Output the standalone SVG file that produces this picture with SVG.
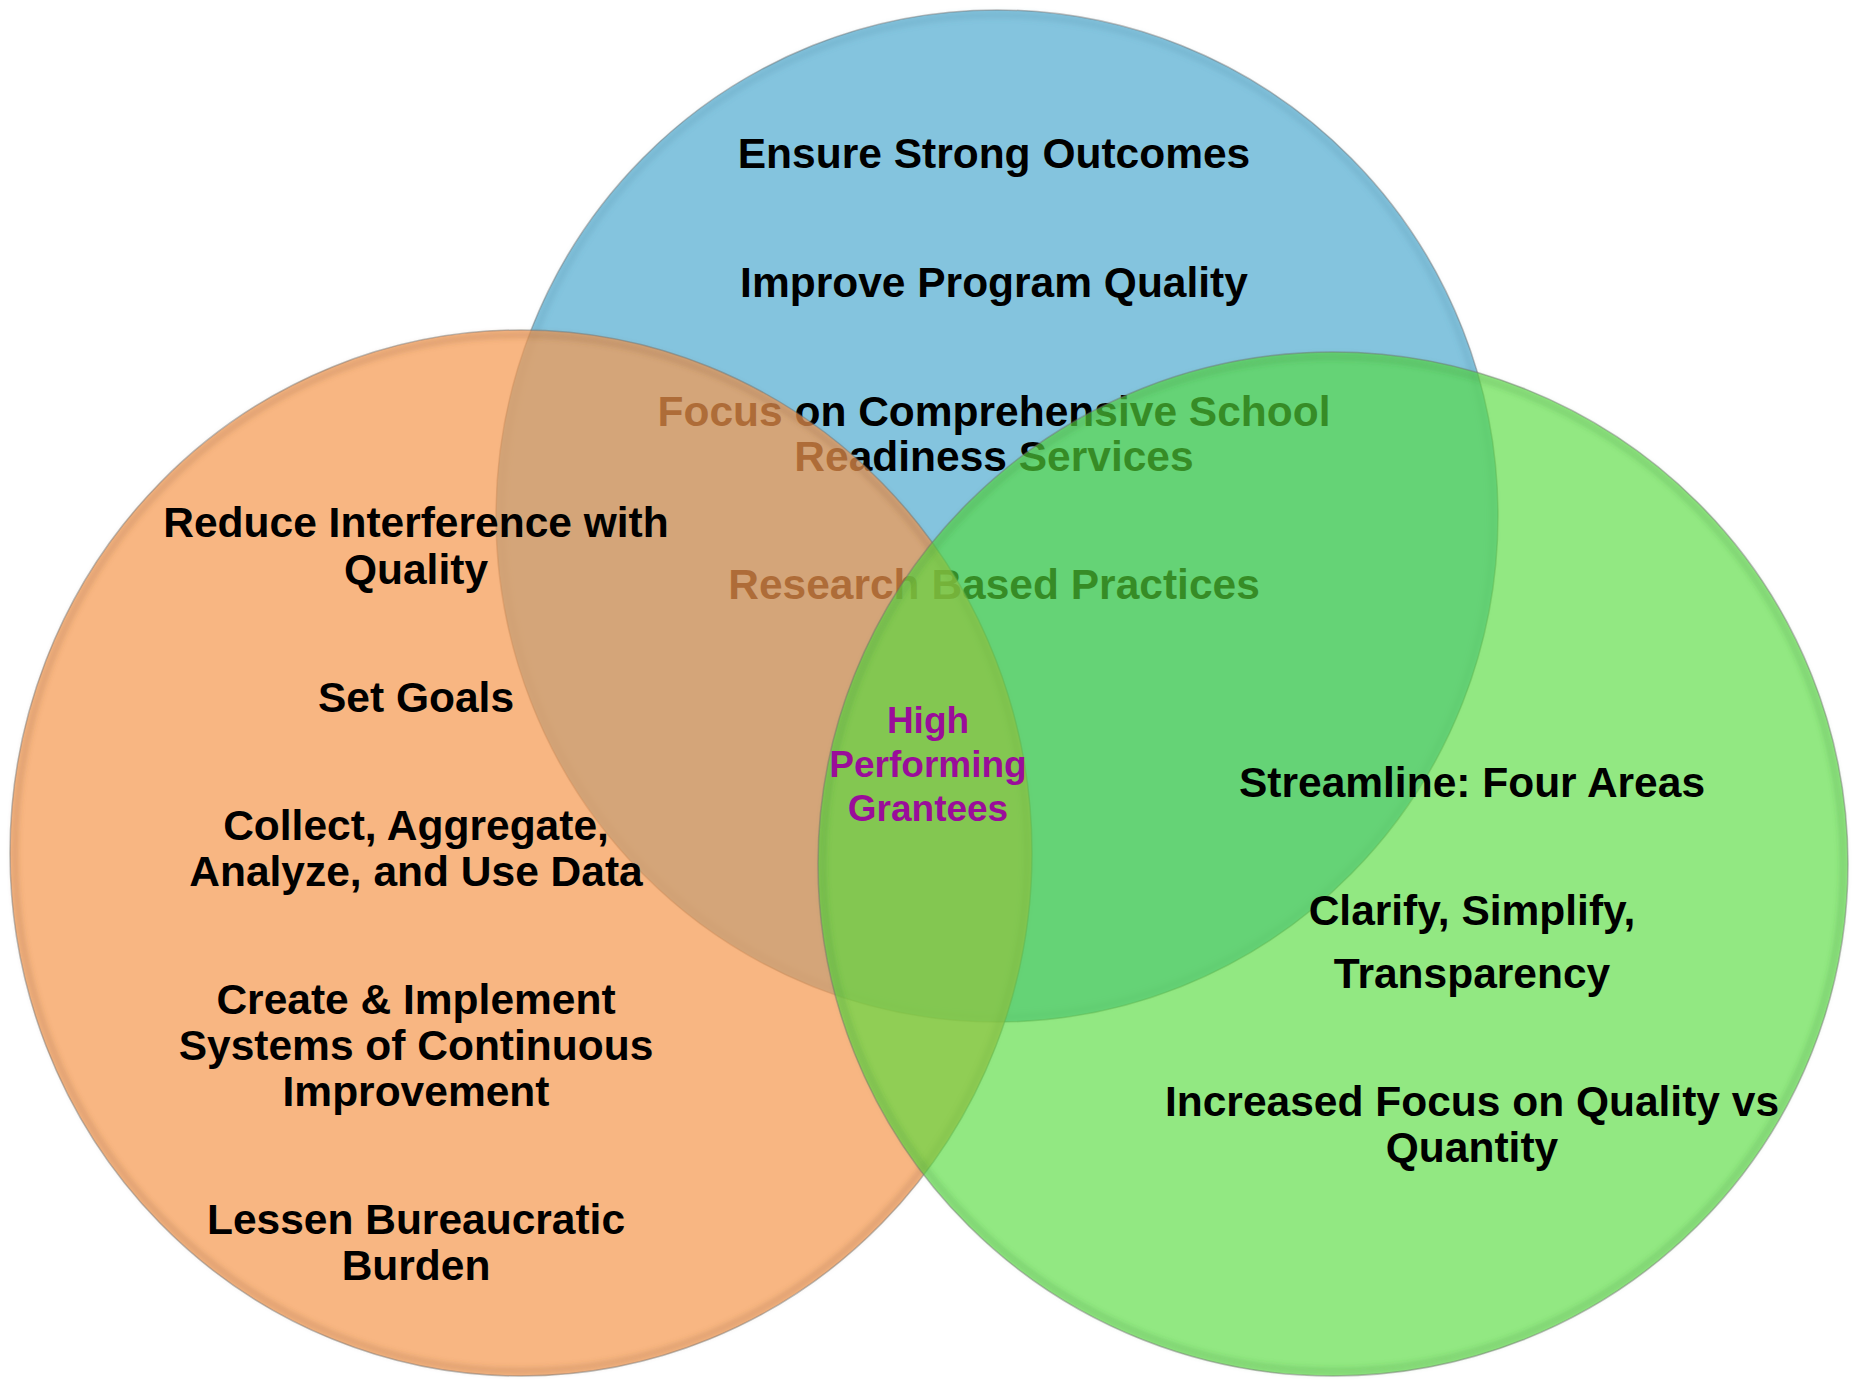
<svg xmlns="http://www.w3.org/2000/svg" width="1860" height="1383" viewBox="0 0 1860 1383">
  <defs>
    <filter id="soft" x="-5%" y="-5%" width="110%" height="110%">
      <feGaussianBlur stdDeviation="2.5"/>
    </filter>
  </defs>
  <style>
    .t { font-family: "Liberation Sans", Arial, sans-serif; font-weight: bold; font-size: 42.5px; text-anchor: middle; fill: #000; }
    .hp { font-family: "Liberation Sans", Arial, sans-serif; font-weight: bold; font-size: 37px; text-anchor: middle; fill: #9a0d9a; }
    .rim { fill: none; stroke: #6e6e6e; stroke-width: 1.5; stroke-opacity: 0.45; }
    .bev { fill: none; stroke-width: 7; stroke-opacity: 0.2; filter: url(#soft); }
  </style>
  <rect width="1860" height="1383" fill="#ffffff"/>

  <g id="node-blue">
    <ellipse cx="997" cy="516" rx="501" ry="506" fill="#84c4de"/>
    <ellipse cx="997" cy="516" rx="496" ry="501" class="bev" stroke="#4a8aa4"/>
    <ellipse cx="997" cy="516" rx="501" ry="506" class="rim"/>
    <text class="t" x="994" y="168">Ensure Strong Outcomes</text>
    <text class="t" x="994" y="297">Improve Program Quality</text>
    <text class="t" x="994" y="426">Focus on Comprehensive School</text>
    <text class="t" x="994" y="471">Readiness Services</text>
    <text class="t" x="994" y="599">Research Based Practices</text>
  </g>

  <g id="node-orange">
    <ellipse cx="521" cy="853" rx="511" ry="523" fill="#f5984f" fill-opacity="0.71"/>
    <ellipse cx="521" cy="853" rx="506" ry="518" class="bev" stroke="#8a5a30"/>
    <ellipse cx="521" cy="853" rx="511" ry="523" class="rim"/>
    <text class="t" x="416" y="537">Reduce Interference with</text>
    <text class="t" x="416" y="584">Quality</text>
    <text class="t" x="416" y="712">Set Goals</text>
    <text class="t" x="416" y="840">Collect, Aggregate,</text>
    <text class="t" x="416" y="886">Analyze, and Use Data</text>
    <text class="t" x="416" y="1014">Create &amp; Implement</text>
    <text class="t" x="416" y="1060">Systems of Continuous</text>
    <text class="t" x="416" y="1106">Improvement</text>
    <text class="t" x="416" y="1234">Lessen Bureaucratic</text>
    <text class="t" x="416" y="1280">Burden</text>
  </g>

  <g id="node-green">
    <ellipse cx="1333" cy="864" rx="515" ry="512" fill="#55db3c" fill-opacity="0.64"/>
    <ellipse cx="1333" cy="864" rx="510" ry="507" class="bev" stroke="#3a8a30"/>
    <ellipse cx="1333" cy="864" rx="515" ry="512" class="rim"/>
    <text class="t" x="1472" y="797">Streamline: Four Areas</text>
    <text class="t" x="1472" y="925">Clarify, Simplify,</text>
    <text class="t" x="1472" y="988">Transparency</text>
    <text class="t" x="1472" y="1116">Increased Focus on Quality vs</text>
    <text class="t" x="1472" y="1162">Quantity</text>
  </g>

  <g id="node-center">
    <text class="hp" x="928" y="733">High</text>
    <text class="hp" x="928" y="777">Performing</text>
    <text class="hp" x="928" y="821">Grantees</text>
  </g>

  <g id="connectors"/>
</svg>
